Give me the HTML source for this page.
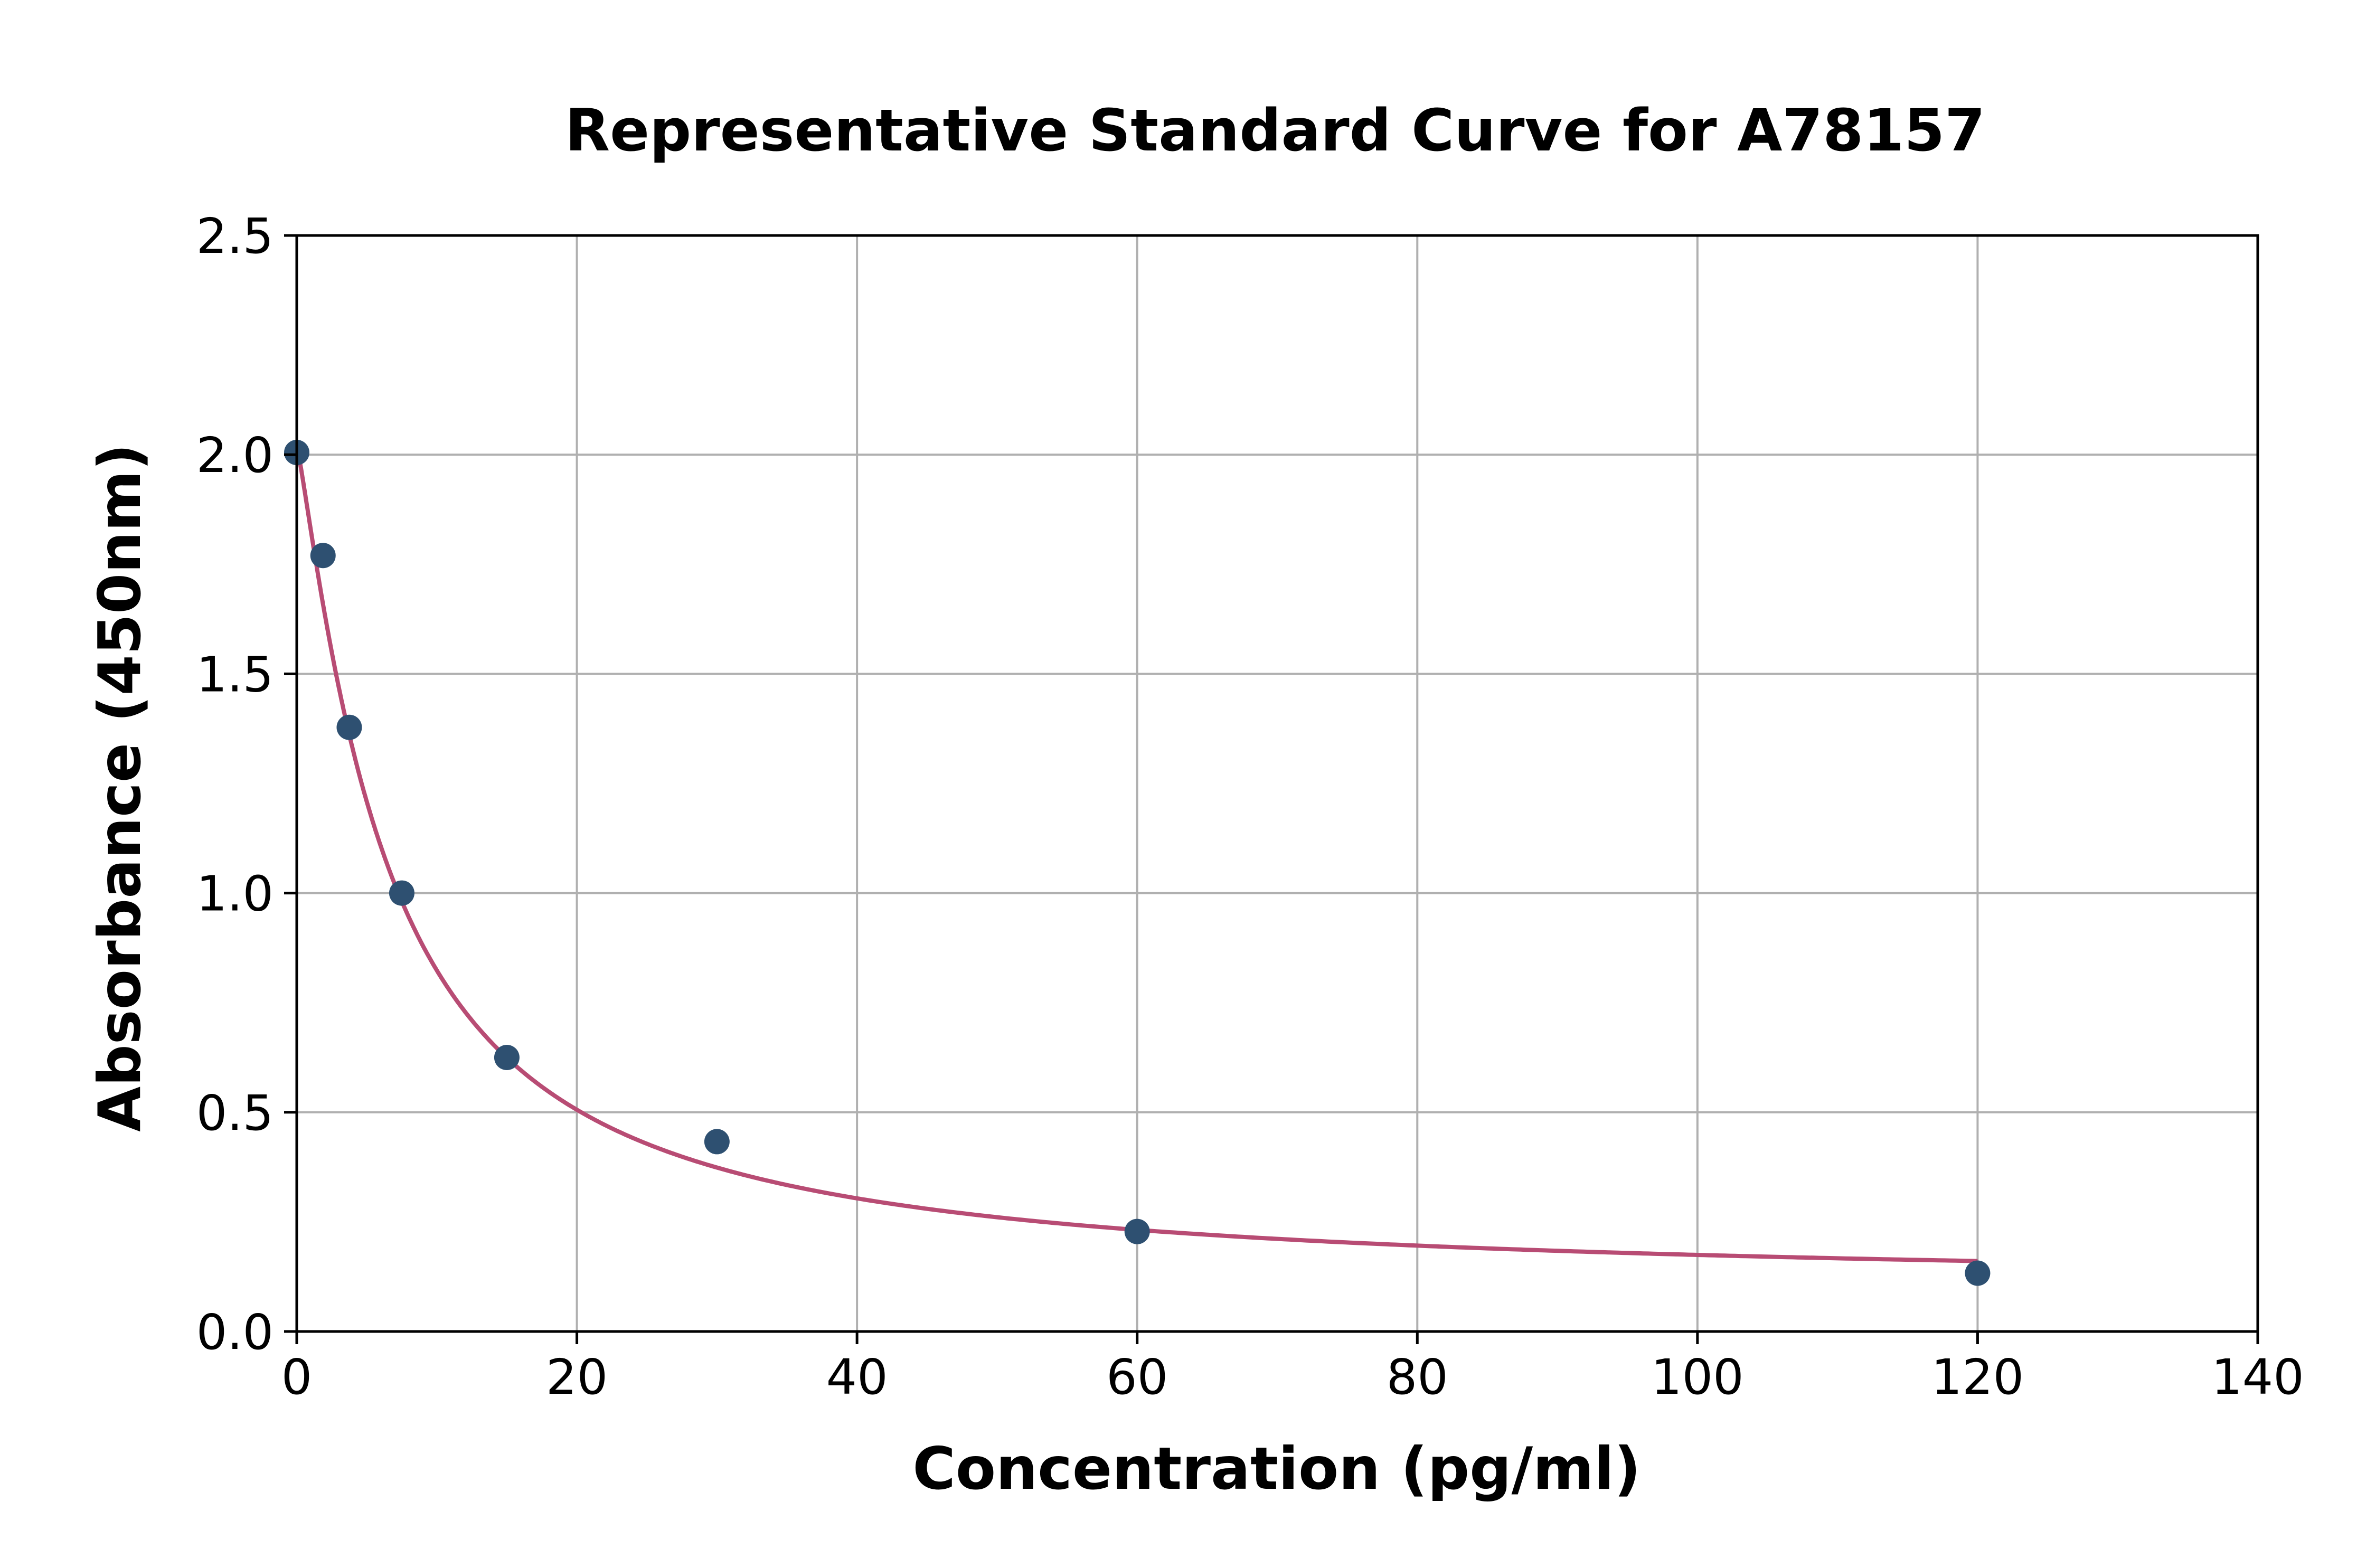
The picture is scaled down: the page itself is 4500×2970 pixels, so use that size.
<!DOCTYPE html>
<html><head><meta charset="utf-8"><style>html,body{margin:0;padding:0;background:#fff}svg{display:block}</style></head>
<body>
<svg id="s" width="4500" height="2970" xmlns="http://www.w3.org/2000/svg" font-family="DejaVu Sans, Liberation Sans, sans-serif">
<rect width="4500" height="2970" fill="#fff"/>
<g id="grid" stroke="#b0b0b0" stroke-width="4"></g>
<path id="curve" fill="none" stroke="#b84c74" stroke-width="8"/>
<g id="pts" fill="#2e5071"></g>
<rect x="562" y="446" width="3714" height="2076" fill="none" stroke="#000" stroke-width="5"/>
<g stroke="#000" stroke-width="5" id="ticks"></g>
<g font-size="92" text-anchor="middle" id="xl"></g>
<g font-size="92" text-anchor="end" id="yl"></g>
<text x="2415" y="285" font-size="110" font-weight="bold" text-anchor="middle" textLength="2690" lengthAdjust="spacingAndGlyphs">Representative Standard Curve for A78157</text>
<text x="2418" y="2820" font-size="111" font-weight="bold" text-anchor="middle">Concentration (pg/ml)</text>
<text transform="translate(265,1492) rotate(-90)" font-size="111" font-weight="bold" text-anchor="middle">Absorbance (450nm)</text>
</svg>
<script>
var X=function(x){return 562+x*3714/140},Y=function(v){return 2522-v*2076/2.5};
var NS="http://www.w3.org/2000/svg";
function el(t,a,p,txt){var e=document.createElementNS(NS,t);for(var k in a)e.setAttribute(k,a[k]);if(txt!=null)e.textContent=txt;document.getElementById(p).appendChild(e);}
for(var i=0;i<=7;i++){var x=X(i*20);if(i>0&&i<7)el('line',{x1:x,y1:446,x2:x,y2:2522},'grid');el('line',{x1:x,y1:2522,x2:x,y2:2546},'ticks');el('text',{x:x,y:2640},'xl',String(i*20));}
for(var i=0;i<=5;i++){var y=Y(i*0.5);if(i>0&&i<5)el('line',{x1:562,y1:y,x2:4276,y2:y},'grid');el('line',{x1:538,y1:y,x2:562,y2:y},'ticks');el('text',{x:518,y:y+33},'yl',(i*0.5).toFixed(1));}
var a=2.02,d=0.1,c=6.52,b=1.175,s="";
for(var i=0;i<=600;i++){var x=120*Math.pow(i/600,2);var v=d+(a-d)/(1+Math.pow(x/c,b));s+=(i?"L":"M")+X(x).toFixed(1)+","+Y(v).toFixed(1);}
document.getElementById('curve').setAttribute('d',s);
[[0,2.005],[1.875,1.77],[3.75,1.378],[7.5,1.0],[15,0.625],[30,0.433],[60,0.228],[120,0.133]].forEach(function(p){el('circle',{cx:X(p[0]),cy:Y(p[1]),r:24},'pts');});
</script>
</body></html>
